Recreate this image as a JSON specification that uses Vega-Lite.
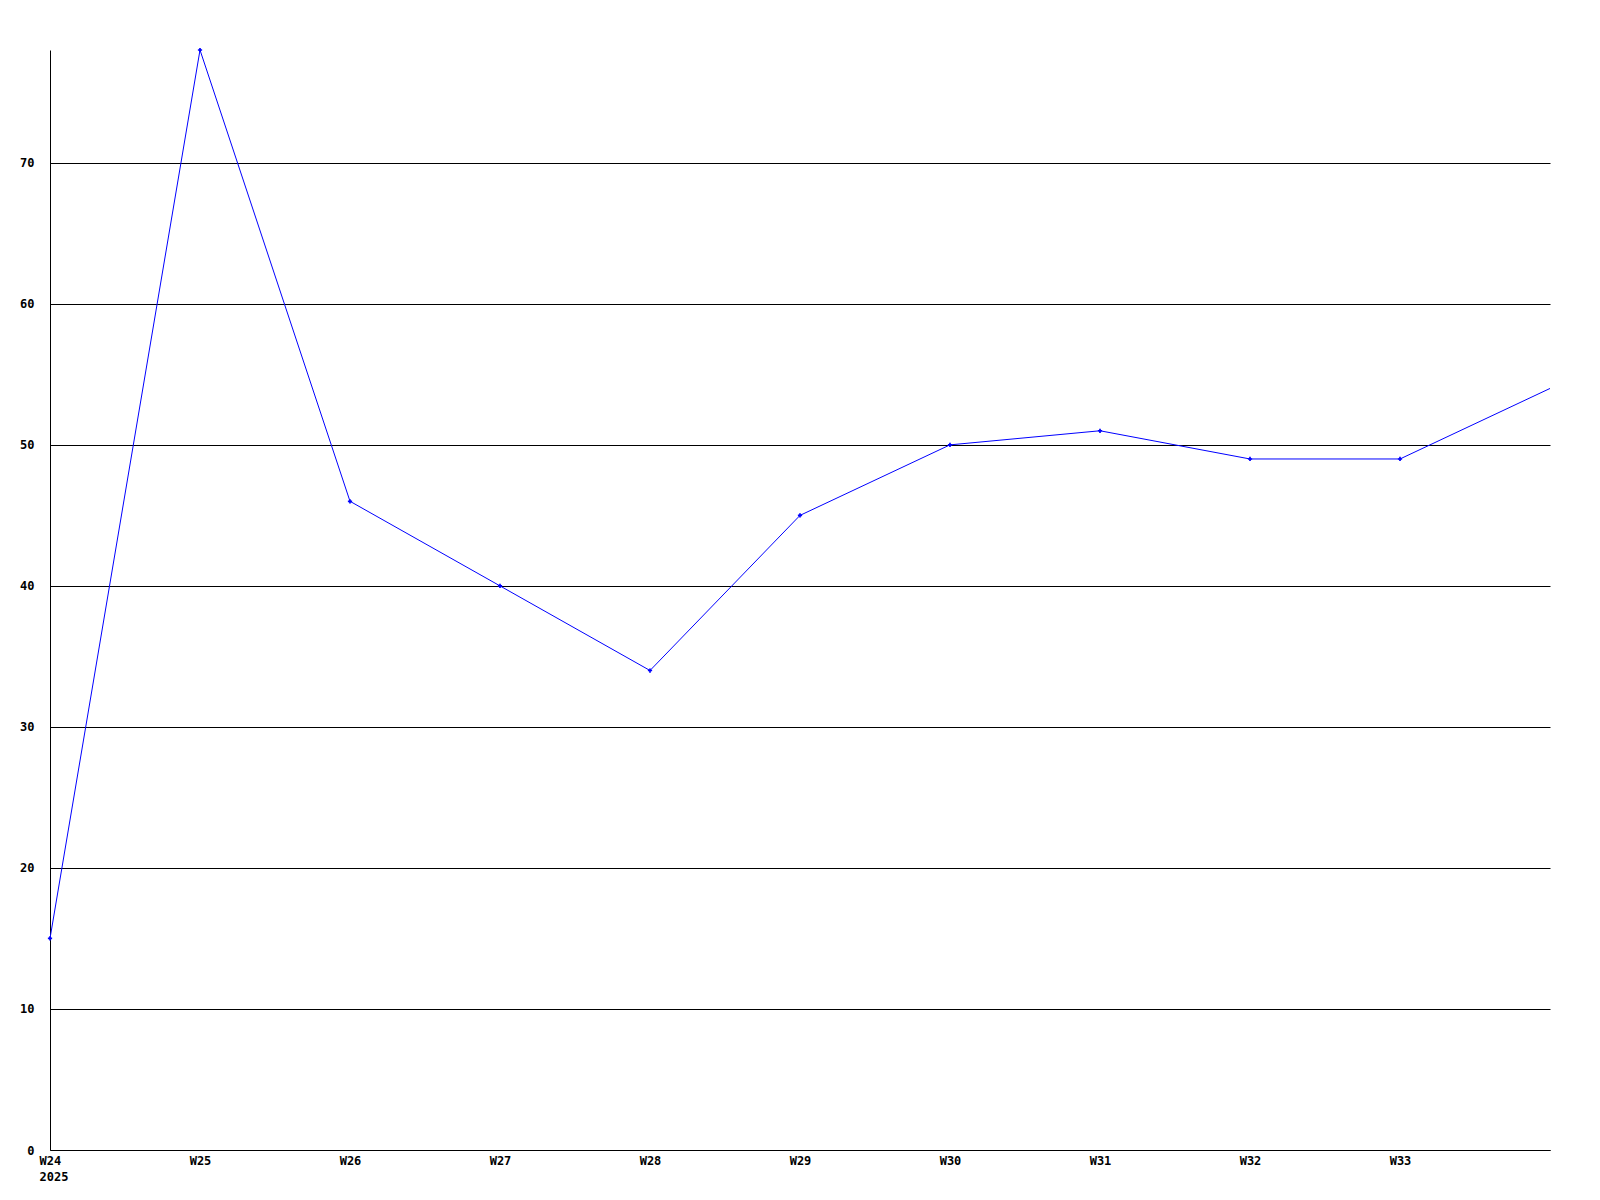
{
  "$schema": "https://vega.github.io/schema/vega-lite/v6.json",
  "width": 1500,
  "height": 1100,
  "autosize": "none",
  "padding": {"left": 50, "top": 50, "right": 50, "bottom": 50},
  "background": "white",
  "config": {"view": {"stroke": null}},
  "data": {"values": [
    {"week": 24, "value": 15},
    {"week": 25, "value": 78},
    {"week": 26, "value": 46},
    {"week": 27, "value": 40},
    {"week": 28, "value": 34},
    {"week": 29, "value": 45},
    {"week": 30, "value": 50},
    {"week": 31, "value": 51},
    {"week": 32, "value": 49},
    {"week": 33, "value": 49},
    {"week": 34, "value": 54}
  ]},
  "encoding": {
    "x": {"field": "week", "type": "quantitative",
      "scale": {"domain": [24, 34], "nice": false, "zero": false},
      "axis": {"title": null, "values": [24,25,26,27,28,29,30,31,32,33], "grid": false, "ticks": false,
        "domainColor": "black", "domainWidth": 1,
        "labelExpr": "datum.value == 24 ? ['W24', '2025'] : 'W' + datum.value",
        "labelAlign": {"condition": {"test": "datum.value == 24", "value": "left"}, "value": "center"},
        "labelOffset": {"condition": {"test": "datum.value == 24", "value": -11}, "value": 0},
        "labelFont": "DejaVu Sans Mono", "labelFontWeight": "bold", "labelFontSize": 12, "labelColor": "black",
        "labelPadding": 5, "labelLineHeight": 16, "labelFlush": false, "labelOverlap": false}},
    "y": {"field": "value", "type": "quantitative",
      "scale": {"domain": [0, 78], "nice": false},
      "axis": {"title": null, "values": [0,10,20,30,40,50,60,70], "grid": true, "gridColor": "black", "gridOpacity": 1, "gridWidth": 1,
        "ticks": false, "domainColor": "black", "domainWidth": 1,
        "labelFont": "DejaVu Sans Mono", "labelFontWeight": "bold", "labelFontSize": 12, "labelColor": "black",
        "labelPadding": 16, "labelFlush": false, "labelOverlap": false}}
  },
  "layer": [
    {"mark": {"type": "line", "color": "#0000ff", "strokeWidth": 1}},
    {"transform": [{"filter": "datum.week <= 33"}],
     "mark": {"type": "point", "shape": "cross", "filled": true, "color": "#0000ff", "size": 18, "opacity": 1}}
  ]
}
